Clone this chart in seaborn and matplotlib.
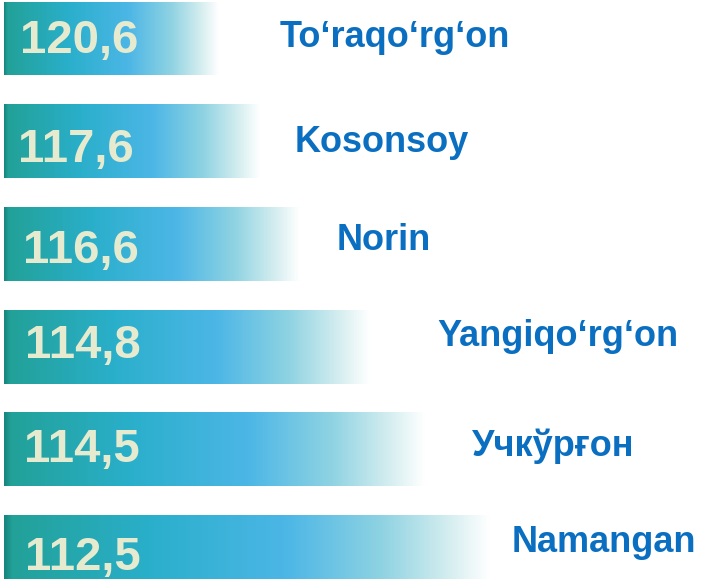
import numpy as np
import pandas as pd
import matplotlib.pyplot as plt
import seaborn as sns
from matplotlib.colors import LinearSegmentedColormap

districts = ["To‘raqo‘rg‘on", "Kosonsoy", "Norin", "Yangiqo‘rg‘on", "Учкўрғон", "Namangan"]
values = [120.6, 117.6, 116.6, 114.8, 114.5, 112.5]
# bar lengths as drawn in the original picture (they do not follow the values)
bar_lengths = [215, 256, 296, 366, 421, 486]

df = pd.DataFrame({"district": districts, "value": values, "length": bar_lengths})

# layout of the text (data units): name x, name baseline shift, value baseline shift
label_x = [276, 291, 333, 433, 468, 508]
label_dy = [0.086, 0.102, 0.06, -0.009, 0.062, 0.003]
value_x = [16, 14, 19, 21, 20, 21]
value_dy = [0.141, 0.2, 0.189, 0.111, 0.124, 0.175]

sns.set_style("white")
plt.rcParams['font.family'] = ['Liberation Sans', 'DejaVu Sans']

fig = plt.figure(figsize=(7.03, 5.79), dpi=100)
ax = fig.add_axes([0, 0, 1, 1])

sns.barplot(data=df, x="length", y="district", orient="h", width=0.72,
            color="white", edgecolor="none", ax=ax)

grad = LinearSegmentedColormap.from_list("bar", [
    (0.0, "#16867f"), (0.015, "#22a198"), (0.3, "#2aafcb"), (0.58, "#4cb6e6"),
    (0.78, "#8fd3e2"), (0.92, "#d6eef0"), (1.0, "#ffffff")])
g = np.linspace(0, 1, 256).reshape(1, -1)

for patch in ax.patches:
    x0, y0 = patch.get_x(), patch.get_y()
    w, h = patch.get_width(), patch.get_height()
    im = ax.imshow(g, cmap=grad, aspect="auto", extent=(x0, x0 + w, y0 + h, y0),
                   zorder=2, interpolation="bicubic")
    im.set_clip_path(patch)

for i, row in df.iterrows():
    ax.text(value_x[i], i + value_dy[i], f"{row['value']:.1f}".replace(".", ","),
            ha="left", va="baseline", fontsize=34, fontweight="bold",
            color="#e6ebcf", zorder=3)
    ax.text(label_x[i], i + label_dy[i], row["district"], ha="left", va="baseline",
            fontsize=26, fontweight="bold", color="#0a6fc0", zorder=3)

ax.set_xlim(-4, 699)
ax.set_ylim(5.263, -0.375)
ax.axis("off")

fig.savefig("out.png", dpi=100)
